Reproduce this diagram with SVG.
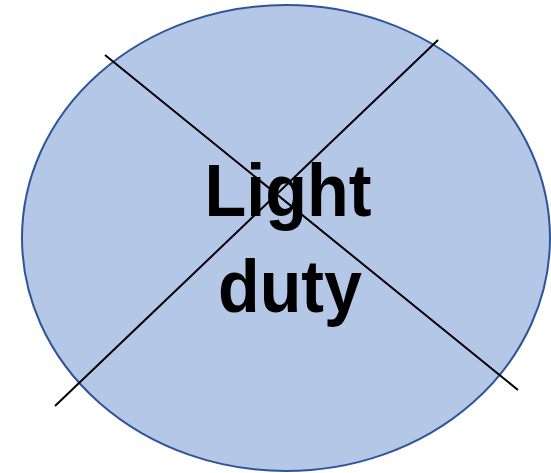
<svg xmlns="http://www.w3.org/2000/svg" width="551" height="473" viewBox="0 0 551 473">
<style>
.lbl{font-family:"Liberation Sans",Arial,sans-serif;font-weight:bold;font-size:75px;fill:#000;text-anchor:middle}
.x{stroke:#000;stroke-width:2;fill:none}
</style>
<rect width="551" height="473" fill="#fff"/>
<g id="node-light-duty">
<ellipse cx="286" cy="238" rx="264" ry="233" fill="#b4c7e7" stroke="#2f5597" stroke-width="2"/>
<text class="lbl" x="288" y="216" textLength="167" lengthAdjust="spacingAndGlyphs">Light</text>
<text class="lbl" x="290" y="312" textLength="144" lengthAdjust="spacingAndGlyphs">duty</text>
</g>
<g id="connectors">
<line class="x" x1="105" y1="55" x2="518" y2="390"/>
<line class="x" x1="438" y1="40" x2="55" y2="406"/>
</g>
</svg>
